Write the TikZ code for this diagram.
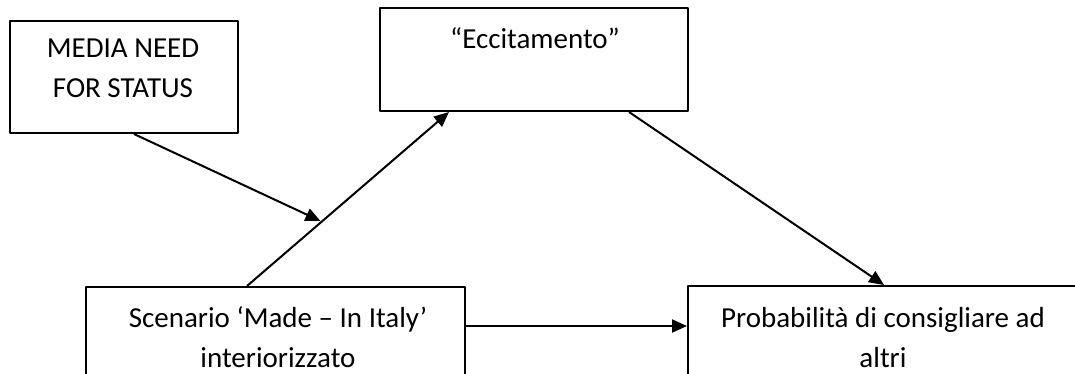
\documentclass[tikz,border=0pt]{standalone}
\usepackage{fontspec}
\setmainfont{Carlito}
\usetikzlibrary{arrows.meta}

\begin{document}
\begin{tikzpicture}[x=1pt, y=-1pt, line join=round,
  box/.style={draw, line width=2pt, inner sep=0pt, anchor=north west},
  txt/.style={inner sep=0pt, anchor=base, align=center, font=\fontsize{29}{40}\selectfont},
  conn/.style={line width=2pt, -{Triangle[length=15pt, width=13pt]}}]
\useasboundingbox (0,0) rectangle (1075,374);
\clip (0,0) rectangle (1075,374);
\node[box, minimum width=228pt, minimum height=112pt] (media) at (9,20) {};
\node[box, minimum width=308pt, minimum height=103pt] (ecc) at (379,7) {};
\node[box, minimum width=379pt, minimum height=110pt] (scen) at (85,286) {};
\node[box, minimum width=392pt, minimum height=110pt] (prob) at (687,285) {};
\node[txt] (mediatxt) at (123,98) {MEDIA NEED\\FOR STATUS};
\node[txt] (ecctxt) at (535,49) {“Eccitamento”};
\node[txt] (scentxt) at (278,367) {Scenario ‘Made – In Italy’\\interiorizzato};
\node[txt] (probtxt) at (883,367) {Probabilità di consigliare ad\\altri};
\coordinate (hit) at (320.5,221);
\draw[conn] ([xshift=10pt]media.south) -- (hit);
\draw[conn] ([xshift=-28.5pt]scen.north) -- ([xshift=-85pt]ecc.south);
\draw[conn] ([xshift=95pt]ecc.south) -- (prob.north);
\draw[conn] ([yshift=-40pt]scen.north east) -- ([yshift=-41pt]prob.north west);
\end{tikzpicture}
\end{document}
